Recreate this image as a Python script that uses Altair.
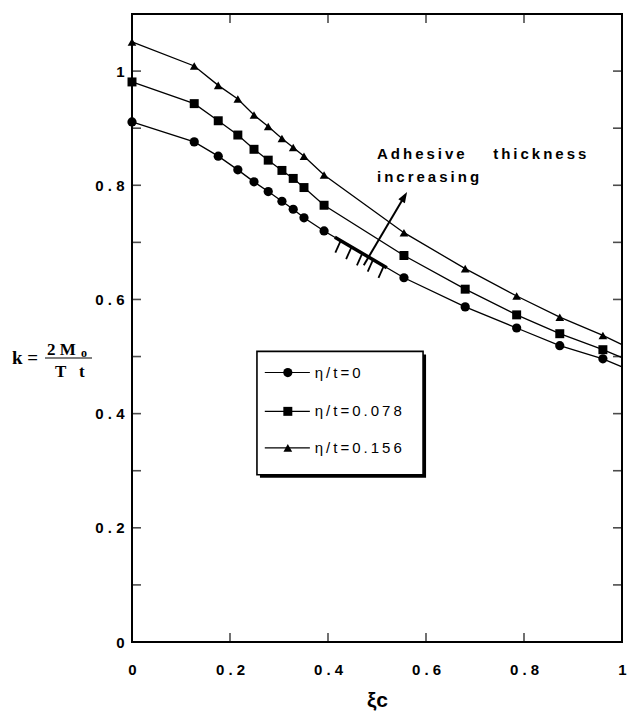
import altair as alt
import pandas as pd

# Normalised crack position and bending-moment factor k for three adhesive thicknesses
xi_c = [0.0, 0.127, 0.176, 0.216, 0.249, 0.278, 0.306, 0.329, 0.351, 0.392,
        0.555, 0.680, 0.785, 0.873, 0.961]
k_eta_0 = [0.911, 0.876, 0.851, 0.827, 0.806, 0.789, 0.772, 0.758, 0.743, 0.720,
           0.638, 0.587, 0.550, 0.519, 0.496]
k_eta_078 = [0.981, 0.943, 0.913, 0.888, 0.863, 0.844, 0.826, 0.812, 0.796, 0.765,
             0.677, 0.618, 0.573, 0.540, 0.512]
k_eta_156 = [1.051, 1.009, 0.975, 0.951, 0.923, 0.903, 0.882, 0.866, 0.851, 0.818,
             0.717, 0.654, 0.606, 0.569, 0.537]
# where each curve meets the right edge of the frame (xi_c = 1)
k_at_edge = [0.482, 0.498, 0.521]

series_names = ["η/t=0", "η/t=0.078", "η/t=0.156"]
marker_shapes = ["circle", "square", "triangle-up"]
marker_sizes = [85, 76, 75]

x_labels = [0, 0.2, 0.4, 0.6, 0.8, 1]
y_labels = [0, 0.2, 0.4, 0.6, 0.8, 1]
x_minor = [0.2, 0.4, 0.6, 0.8]
y_minor = [0.1, 0.2, 0.3, 0.4, 0.5, 0.6, 0.7, 0.8, 0.9, 1.0]

# legend box and rows (data units)
legend_box_x = [0.255, 0.594]
legend_box_y = [0.293, 0.509]
legend_row_k = [0.472, 0.404, 0.340]
legend_line_x = [0.271, 0.363]
legend_marker_x = 0.318
legend_text_x = 0.373

# "Adhesive thickness increasing" annotation
note_words = ["Adhesive", "thickness", "increasing"]
note_x = [0.500, 0.737, 0.500]
note_k = [0.855, 0.855, 0.815]
arrow_tail = (0.473, 0.660)
arrow_head = (0.555, 0.779)
hatch_span = [0.414, 0.520]
hatch_ticks_x = [0.426, 0.448, 0.470, 0.492, 0.514]

X_DOM = [0, 1]
Y_DOM = [0, 1.1]
THIN = "\u2009"
NBSP = "\u00a0"


def spaced(s):
    return THIN.join(s)


def interp(x, xs, ys):
    for i in range(len(xs) - 1):
        if xs[i] <= x <= xs[i + 1]:
            t = (x - xs[i]) / (xs[i + 1] - xs[i])
            return ys[i] + t * (ys[i + 1] - ys[i])
    return ys[-1]


all_k = [k_eta_0, k_eta_078, k_eta_156]
rows = []
for name, ks, kend in zip(series_names, all_k, k_at_edge):
    for x, k in zip(xi_c, ks):
        rows.append({"xi": x, "k": k, "series": name, "marker": True})
    rows.append({"xi": 1.0, "k": kend, "series": name, "marker": False})
curves = pd.DataFrame(rows)

xs = alt.Scale(domain=X_DOM, nice=False, zero=False)
ys = alt.Scale(domain=Y_DOM, nice=False, zero=False)
shape_scale = alt.Scale(domain=series_names, range=marker_shapes)
size_scale = alt.Scale(domain=series_names, range=marker_sizes)

label_expr = "join(split(datum.label, ''), ' ')"

# one shared axis definition per channel, used by every layer
x_axis = alt.Axis(values=x_labels, format=".1~f", labelPadding=20, labelExpr=label_expr,
                  labelFlush=False, labelOverlap=False,
                  title="ξc", titleFontSize=21, titleFont="Liberation Sans",
                  titleFontWeight="bold", titleBaseline="middle",
                  titleAlign="center", titleX=245, titleY=58)
y_axis = alt.Axis(values=y_labels, format=".1~f", labelPadding=8, labelExpr=label_expr,
                  labelFlush=False, labelOverlap=False, title=None)


def X(field):
    return alt.X(field, scale=xs, axis=x_axis, title="ξc")


def Y(field):
    return alt.Y(field, scale=ys, axis=y_axis, title=None)


lines = alt.Chart(curves).mark_line(color="black", strokeWidth=1.3).encode(
    x=X("xi:Q"), y=Y("k:Q"), detail="series:N", order="xi:Q")

points = alt.Chart(curves).transform_filter("datum.marker").mark_point(
    filled=True, color="black", opacity=1
).encode(
    x=X("xi:Q"), y=Y("k:Q"),
    shape=alt.Shape("series:N", scale=shape_scale, legend=None),
    size=alt.Size("series:N", scale=size_scale, legend=None),
)

# inward tick marks on all four sides of the frame
tick_style = dict(color="black", thickness=1.6, size=18, clip=True)
left_ticks = alt.Chart(pd.DataFrame({"k": y_minor, "xi": 0.0})).mark_tick(
    orient="horizontal", **tick_style).encode(x=X("xi:Q"), y=Y("k:Q"))
right_ticks = alt.Chart(pd.DataFrame({"k": y_minor, "xi": 1.0})).mark_tick(
    orient="horizontal", **tick_style).encode(x=X("xi:Q"), y=Y("k:Q"))
bottom_ticks = alt.Chart(pd.DataFrame({"xi": x_minor, "k": Y_DOM[0]})).mark_tick(
    orient="vertical", **tick_style).encode(x=X("xi:Q"), y=Y("k:Q"))
top_ticks = alt.Chart(pd.DataFrame({"xi": x_minor, "k": Y_DOM[1]})).mark_tick(
    orient="vertical", **tick_style).encode(x=X("xi:Q"), y=Y("k:Q"))

# legend: drop shadow, framed box, sample line, marker and label per series
box = pd.DataFrame({"x0": [legend_box_x[0]], "x1": [legend_box_x[1]],
                    "y0": [legend_box_y[0]], "y1": [legend_box_y[1]]})
shadow = alt.Chart(box).mark_rect(color="black", xOffset=3, yOffset=3,
                                  x2Offset=3, y2Offset=3).encode(
    x=X("x0:Q"), x2="x1:Q", y=Y("y0:Q"), y2="y1:Q")
frame = alt.Chart(box).mark_rect(fill="white", stroke="black", strokeWidth=1.6).encode(
    x=X("x0:Q"), x2="x1:Q", y=Y("y0:Q"), y2="y1:Q")

legend_df = pd.DataFrame({
    "series": series_names,
    "k": legend_row_k,
    "lx0": legend_line_x[0],
    "lx1": legend_line_x[1],
    "mx": legend_marker_x,
    "tx": legend_text_x,
    "label": [spaced(s) for s in series_names],
})
legend_lines = alt.Chart(legend_df).mark_rule(color="black", strokeWidth=1.1).encode(
    x=X("lx0:Q"), x2="lx1:Q", y=Y("k:Q"))
legend_marks = alt.Chart(legend_df).mark_point(filled=True, color="black", opacity=1).encode(
    x=X("mx:Q"), y=Y("k:Q"),
    shape=alt.Shape("series:N", scale=shape_scale, legend=None),
    size=alt.Size("series:N", scale=size_scale, legend=None),
)
legend_text = alt.Chart(legend_df).mark_text(
    align="left", baseline="middle", font="Liberation Sans", fontSize=15, color="black"
).encode(x=X("tx:Q"), y=Y("k:Q"), text="label:N")

# annotation: text, arrow and hatched wall symbol on the lowest curve
note_df = pd.DataFrame({"x": note_x, "k": note_k,
                        "word": [spaced(w) for w in note_words]})
note = alt.Chart(note_df).mark_text(
    align="left", baseline="middle", font="Liberation Sans", fontWeight="bold",
    fontSize=15, color="black"
).encode(x=X("x:Q"), y=Y("k:Q"), text="word:N")

arrow_df = pd.DataFrame({"x0": [arrow_tail[0]], "k0": [arrow_tail[1]],
                         "x1": [arrow_head[0]], "k1": [arrow_head[1]]})
arrow_shaft = alt.Chart(arrow_df).mark_rule(color="black", strokeWidth=2).encode(
    x=X("x0:Q"), x2="x1:Q", y=Y("k0:Q"), y2="k1:Q")
arrow_tip = alt.Chart(arrow_df).mark_point(
    shape="M0,-1L0.62,0.75L-0.62,0.75Z", filled=True, color="black", opacity=1,
    size=150, angle=30.5
).encode(x=X("x1:Q"), y=Y("k1:Q"))

wall_df = pd.DataFrame({"x": hatch_span,
                        "k": [interp(x, xi_c, k_eta_0) for x in hatch_span]})
wall = alt.Chart(wall_df).mark_line(color="black", strokeWidth=3.5).encode(
    x=X("x:Q"), y=Y("k:Q"))
hatch_df = pd.DataFrame({
    "x0": hatch_ticks_x,
    "k0": [interp(x, xi_c, k_eta_0) for x in hatch_ticks_x],
})
hatch_df["x1"] = hatch_df["x0"] - 0.011
hatch_df["k1"] = hatch_df["k0"] - 0.021
hatch = alt.Chart(hatch_df).mark_rule(color="black", strokeWidth=1.8).encode(
    x=X("x0:Q"), x2="x1:Q", y=Y("k0:Q"), y2="k1:Q")

# y-axis title  k = 2 Mo / (T t), set as a stacked fraction
serif = dict(font="Liberation Serif", fontWeight="bold", color="black")
k_lhs = alt.Chart().mark_text(align="left", baseline="middle", fontSize=19, **serif).encode(
    x=alt.value(-120), y=alt.value(344), text=alt.value("k" + NBSP + "="))
k_num = alt.Chart().mark_text(align="left", baseline="alphabetic", fontSize=17, **serif).encode(
    x=alt.value(-85), y=alt.value(341), text=alt.value("2" + NBSP + "M"))
k_sub = alt.Chart().mark_text(align="left", baseline="alphabetic", fontSize=12, **serif).encode(
    x=alt.value(-51), y=alt.value(343), text=alt.value("o"))
k_bar = alt.Chart().mark_rule(color="black", strokeWidth=1.2).encode(
    x=alt.value(-87), x2=alt.value(-40), y=alt.value(344))
k_den = alt.Chart().mark_text(align="left", baseline="alphabetic", fontSize=17, **serif).encode(
    x=alt.value(-77), y=alt.value(363), text=alt.value("T" + NBSP * 3 + "t"))

chart = alt.layer(
    lines, points,
    left_ticks, right_ticks, bottom_ticks, top_ticks,
    shadow, frame, legend_lines, legend_marks, legend_text,
    wall, hatch, arrow_shaft, arrow_tip, note,
    k_lhs, k_num, k_sub, k_bar, k_den,
).properties(
    width=490,
    height=628,
    autosize=alt.AutoSizeParams(type="none"),
    padding={"left": 132, "top": 14, "right": 7, "bottom": 73},
    background="white",
).configure_view(
    stroke="black", strokeWidth=2
).configure_axis(
    domain=False, ticks=False, grid=False,
    labelFont="Liberation Sans", labelFontWeight="bold", labelFontSize=15,
    labelColor="black", titleColor="black",
)

chart.save("out.html", embed_options={"renderer": "svg", "actions": False})
